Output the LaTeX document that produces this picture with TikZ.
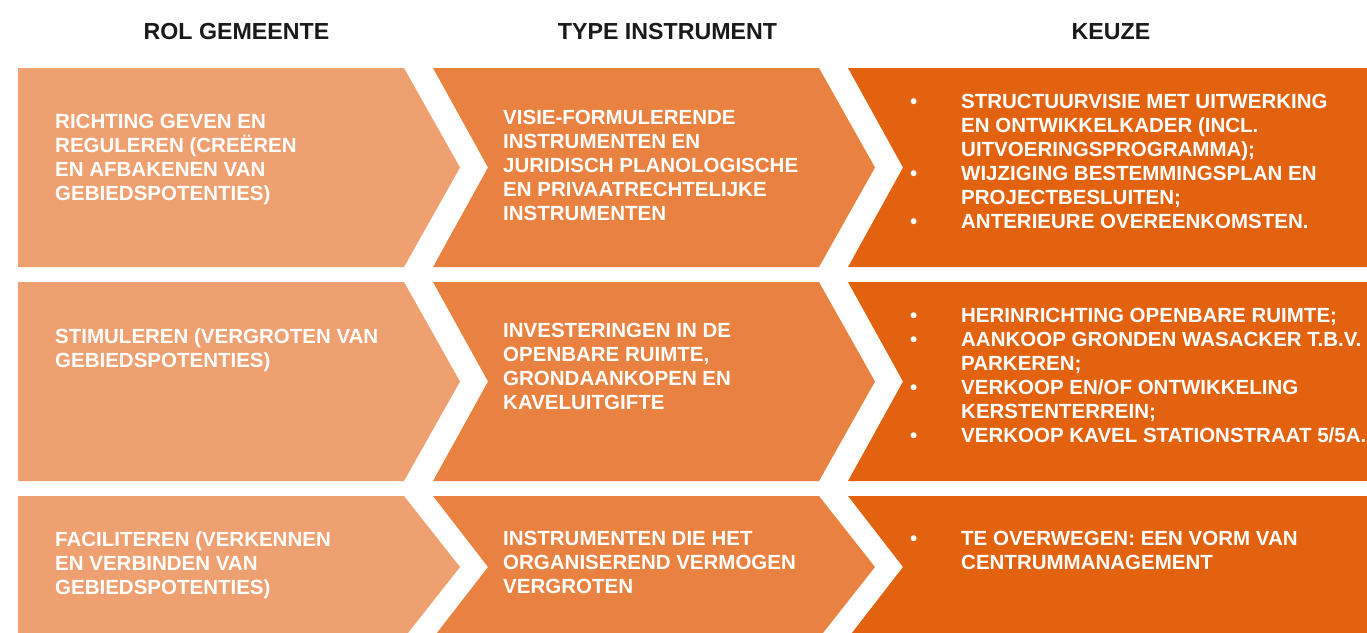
\documentclass[tikz,border=0pt]{standalone}
\usepackage{fontspec}
\setmainfont{Liberation Sans}
\definecolor{cone}{HTML}{EFA070}
\definecolor{ctwo}{HTML}{E98240}
\definecolor{cthree}{HTML}{E26210}
\definecolor{headc}{HTML}{1A1A1A}
\tikzset{
  x=1pt, y=-1pt,
  headtxt/.style={font=\fontsize{23.2}{26}\selectfont\bfseries, text=headc, inner sep=0pt, anchor=base},
  bodytxt/.style={font=\fontsize{20.5}{24}\selectfont\bfseries, text=white, inner sep=0pt, anchor=north west, align=left},
}
\newcommand{\bul}{\makebox[51pt][l]{\textbullet}}
\newcommand{\ind}{\hspace*{51pt}}
\begin{document}
\begin{tikzpicture}
\useasboundingbox (0,0) rectangle (1367,632);
\clip (0,0) rectangle (1367,632);
\fill[white] (0,0) rectangle (1367,632);
\foreach \t/\b in {68/267, 282/481, 496/638} {
  \pgfmathsetmacro\m{(\t+\b)/2}
  \fill[cone] (18,\t) -- (404,\t) -- (460,\m) -- (404,\b) -- (18,\b) -- cycle;
  \fill[ctwo] (433,\t) -- (819,\t) -- (875,\m) -- (819,\b) -- (433,\b) -- (488,\m) -- cycle;
  \fill[cthree] (848,\t) -- (1367,\t) -- (1367,\b) -- (848,\b) -- (903,\m) -- cycle;
}
% headers
\node[headtxt] (h1) at (236.5,39.5) {ROL GEMEENTE};
\node[headtxt] (h2) at (667.5,39.5) {TYPE INSTRUMENT};
\node[headtxt] (h3) at (1111,39.5) {KEUZE};
% row 1
\node[bodytxt] (r1c1) at (55,114) {RICHTING GEVEN EN\\REGULEREN (CREËREN\\EN AFBAKENEN VAN\\GEBIEDSPOTENTIES)};
\node[bodytxt] (r1c2) at (503,110) {VISIE-FORMULERENDE\\INSTRUMENTEN EN\\JURIDISCH PLANOLOGISCHE\\EN PRIVAATRECHTELIJKE\\INSTRUMENTEN};
\node[bodytxt] (r1c3) at (910,94) {\bul STRUCTUURVISIE MET UITWERKING\\\ind EN ONTWIKKELKADER (INCL.\\\ind UITVOERINGSPROGRAMMA);\\\bul WIJZIGING BESTEMMINGSPLAN EN\\\ind PROJECTBESLUITEN;\\\bul ANTERIEURE OVEREENKOMSTEN.};
% row 2
\node[bodytxt] (r2c1) at (55,328) {STIMULEREN (VERGROTEN VAN\\GEBIEDSPOTENTIES)};
\node[bodytxt] (r2c2) at (503,323) {INVESTERINGEN IN DE\\OPENBARE RUIMTE,\\GRONDAANKOPEN EN\\KAVELUITGIFTE};
\node[bodytxt] (r2c3) at (910,307.5) {\bul HERINRICHTING OPENBARE RUIMTE;\\\bul AANKOOP GRONDEN WASACKER T.B.V.\\\ind PARKEREN;\\\bul VERKOOP EN/OF ONTWIKKELING\\\ind KERSTENTERREIN;\\\bul VERKOOP KAVEL STATIONSTRAAT 5/5A.};
% row 3
\node[bodytxt] (r3c1) at (55,531) {FACILITEREN (VERKENNEN\\EN VERBINDEN VAN\\GEBIEDSPOTENTIES)};
\node[bodytxt] (r3c2) at (503,531) {INSTRUMENTEN DIE HET\\ORGANISEREND VERMOGEN\\VERGROTEN};
\node[bodytxt] (r3c3) at (910,531) {\bul TE OVERWEGEN: EEN VORM VAN\\\ind CENTRUMMANAGEMENT};
\end{tikzpicture}
\end{document}
